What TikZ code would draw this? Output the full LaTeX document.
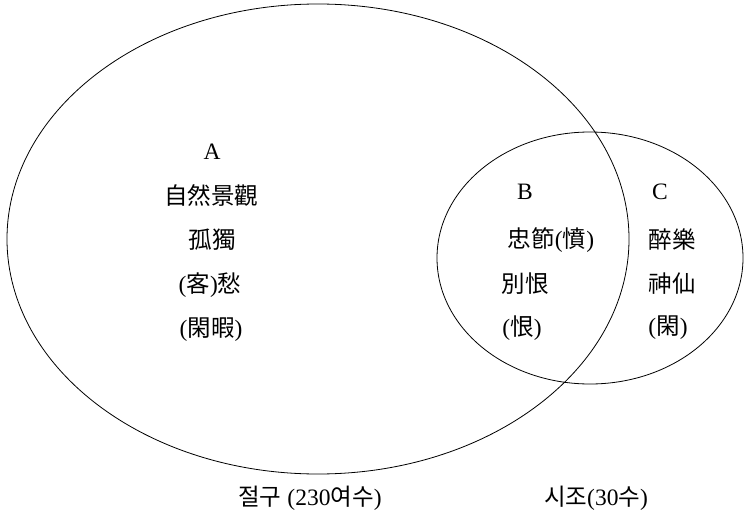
\documentclass[tikz,border=0pt]{standalone}
\usepackage{fontspec}
\setmainfont{Liberation Serif}
\newfontfamily\cjk{Noto Sans CJK KR}
\begin{document}
\begin{tikzpicture}[x=1pt,y=-1pt,
  lbl/.style={font=\fontsize{23.5}{26}\selectfont, inner sep=0pt, anchor=center},
  setline/.style={draw=black, line width=0.8pt}]
\useasboundingbox (0,0) rectangle (744,516);
\fill[white] (0,0) rectangle (744,516);
\draw[setline] (318,239) ellipse [x radius=311, y radius=235];
\draw[setline] (590,258) ellipse [x radius=153, y radius=126];
% A
\node[lbl] (A) at (212,152) {A};
\node[lbl] (A1) at (211,195) {\cjk 自然景觀};
\node[lbl] (A2) at (212,240) {\cjk 孤獨};
\node[lbl] (A3) at (210,285) {({\cjk 客}){\cjk 愁}};
\node[lbl] (A4) at (211,330) {({\cjk 閑暇})};
% B
\node[lbl] (B) at (525,192) {B};
\node[lbl] (B1) at (551,240) {{\cjk 忠節}({\cjk 憤})};
\node[lbl] (B2) at (525,284) {\cjk 別恨};
\node[lbl] (B3) at (522,328) {({\cjk 恨})};
% C
\node[lbl] (C) at (660,192) {C};
\node[lbl] (C1) at (672,240) {\cjk 醉樂};
\node[lbl] (C2) at (672,284) {\cjk 神仙};
\node[lbl] (C3) at (668,328) {({\cjk 閑})};
% captions
\node[lbl] (L1) at (310,498) {{\cjk 절구} (230{\cjk 여수})};
\node[lbl] (L2) at (596,498) {{\cjk 시조}(30{\cjk 수})};
\end{tikzpicture}
\end{document}
